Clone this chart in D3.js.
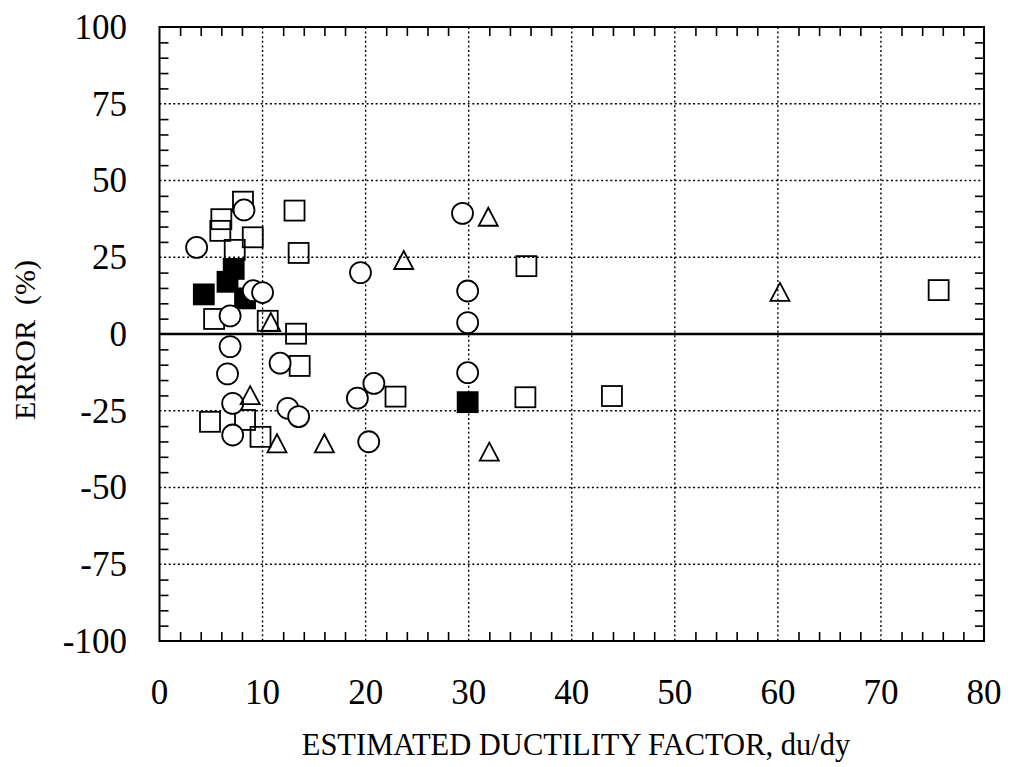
<!DOCTYPE html>
<html>
<head>
<meta charset="utf-8">
<script src="https://cdn.jsdelivr.net/npm/d3@7"></script>
<style>
  body { margin: 0; background: #fff; }
</style>
</head>
<body>
<div id="chart"></div>
<script>
// Values: [ductility factor, error %]
const openSquares = [
  [8.1, 43.1], [13.1, 40.2], [6.0, 37.4], [5.9, 33.6], [9.05, 31.5],
  [7.3, 27.4], [13.5, 26.4], [35.6, 22.1], [5.3, 4.9], [10.5, 4.3],
  [13.25, 0.1], [13.6, -10.4], [4.9, -28.6], [8.3, -28.0], [9.8, -33.5],
  [22.9, -20.4], [35.5, -20.6], [43.9, -20.2], [75.6, 14.3]
];
const filledSquares = [
  [4.3, 12.9], [6.6, 17.0], [7.2, 21.2], [8.3, 11.6], [29.9, -22.2]
];
const circles = [
  [8.2, 40.4], [3.6, 28.2], [9.1, 14.1], [10.0, 13.5], [6.85, 5.9],
  [6.85, -4.1], [11.7, -9.5], [6.6, -13.0], [7.1, -22.6], [12.45, -24.2],
  [13.5, -26.9], [7.1, -32.9], [19.5, 20.0], [20.8, -16.1], [19.2, -20.9],
  [20.3, -35.1], [29.4, 39.3], [29.9, 14.0], [29.9, 3.7], [29.9, -12.6]
];
const triangles = [
  [10.8, 3.9], [8.8, -19.9], [11.4, -35.6], [16.0, -35.6],
  [23.7, 24.1], [31.9, 38.2], [32.0, -38.3], [60.2, 13.7]
];
const xTicks = [0, 10, 20, 30, 40, 50, 60, 70, 80];
const yTicks = [100, 75, 50, 25, 0, -25, -50, -75, -100];
const xTitle = 'ESTIMATED DUCTILITY FACTOR, du/dy';
const yTitle = 'ERROR\u00a0\u00a0(%)';

const width = 1013;
const height = 767;
const margin = {top: 27, right: 29, bottom: 126, left: 159.5};
const serif = '"Liberation Serif", "DejaVu Serif", serif';

const svg = d3.select('#chart')
  .append('svg')
    .attr('width', width)
    .attr('height', height)
    .attr('viewBox', [0, 0, width, height])
    .attr('font-family', serif)
    .style('font-family', serif);

const xScale = d3.scaleLinear()
  .domain([0, 80])
  .range([margin.left, width - margin.right]);
const yScale = d3.scaleLinear()
  .domain([-100, 100])
  .range([height - margin.bottom, margin.top]);

const x0 = xScale(0), x1 = xScale(80);
const y0 = yScale(-100), y1 = yScale(100);

// dotted grid at major ticks
const grid = svg.append('g')
  .attr('stroke', '#000')
  .attr('stroke-width', 1.4)
  .attr('stroke-dasharray', '2 2.6');
grid.selectAll('.vgrid')
  .data(xTicks.slice(1, -1))
  .join('line')
    .attr('x1', d => xScale(d)).attr('x2', d => xScale(d))
    .attr('y1', y1).attr('y2', y0);
grid.selectAll('.hgrid')
  .data(yTicks.filter(d => d !== 0 && Math.abs(d) !== 100))
  .join('line')
    .attr('x1', x0).attr('x2', x1)
    .attr('y1', d => yScale(d)).attr('y2', d => yScale(d));

// zero line
svg.append('line')
  .attr('x1', x0).attr('x2', x1)
  .attr('y1', yScale(0)).attr('y2', yScale(0))
  .attr('stroke', '#000')
  .attr('stroke-width', 2.4);

// minor ticks on all four sides, pointing inward
const xMinor = d3.range(0, 81, 2).filter(d => d % 10 !== 0);
const yMinor = d3.range(-100, 101, 5).filter(d => d % 25 !== 0);
const tickLen = 9;

const styleAxis = g => {
  g.select('.domain').remove();
  g.selectAll('line').attr('stroke', '#000').attr('stroke-width', 1.6);
  g.selectAll('text').remove();
};
svg.append('g')
  .attr('transform', `translate(0,${y0})`)
  .call(d3.axisBottom(xScale).tickValues(xMinor).tickSize(-tickLen))
  .call(styleAxis);
svg.append('g')
  .attr('transform', `translate(0,${y1})`)
  .call(d3.axisTop(xScale).tickValues(xMinor).tickSize(-tickLen))
  .call(styleAxis);
svg.append('g')
  .attr('transform', `translate(${x0},0)`)
  .call(d3.axisLeft(yScale).tickValues(yMinor).tickSize(-tickLen))
  .call(styleAxis);
svg.append('g')
  .attr('transform', `translate(${x1},0)`)
  .call(d3.axisRight(yScale).tickValues(yMinor).tickSize(-tickLen))
  .call(styleAxis);

// frame
svg.append('rect')
  .attr('x', x0).attr('y', y1)
  .attr('width', x1 - x0).attr('height', y0 - y1)
  .attr('fill', 'none')
  .attr('stroke', '#000')
  .attr('stroke-width', 2);

// tick labels
svg.append('g')
  .selectAll('text')
  .data(xTicks)
  .join('text')
    .attr('x', d => xScale(d))
    .attr('y', 704)
    .attr('text-anchor', 'middle')
    .attr('fill', '#000')
    .style('font-size', '35px')
    .text(d => d);
svg.append('g')
  .selectAll('text')
  .data(yTicks)
  .join('text')
    .attr('x', 127)
    .attr('y', d => yScale(d))
    .attr('dy', '0.34em')
    .attr('text-anchor', 'end')
    .attr('fill', '#000')
    .style('font-size', '35px')
    .text(d => d);

// axis titles
svg.append('text')
  .attr('x', 576)
  .attr('y', 755)
  .attr('text-anchor', 'middle')
  .attr('fill', '#000')
  .style('font-size', '30.5px')
  .text(xTitle);
svg.append('text')
  .attr('transform', `translate(35,${(y0 + y1) / 2 + 6}) rotate(-90)`)
  .attr('text-anchor', 'middle')
  .attr('fill', '#000')
  .style('font-size', '30px')
  .text(yTitle);

// markers
const sq = 20;
const markers = svg.append('g')
  .attr('stroke', '#000')
  .attr('stroke-width', 1.8);

markers.append('g')
  .selectAll('rect')
  .data(openSquares)
  .join('rect')
    .attr('x', d => xScale(d[0]) - sq / 2)
    .attr('y', d => yScale(d[1]) - sq / 2)
    .attr('width', sq).attr('height', sq)
    .attr('fill', 'none');

markers.append('g')
  .selectAll('rect')
  .data(filledSquares)
  .join('rect')
    .attr('x', d => xScale(d[0]) - sq / 2)
    .attr('y', d => yScale(d[1]) - sq / 2)
    .attr('width', sq).attr('height', sq)
    .attr('fill', '#000');

markers.append('g')
  .selectAll('circle')
  .data(circles)
  .join('circle')
    .attr('cx', d => xScale(d[0]))
    .attr('cy', d => yScale(d[1]))
    .attr('r', 10.5)
    .attr('fill', '#fff');

const triW = 19, triH = 18;
markers.append('g')
  .selectAll('path')
  .data(triangles)
  .join('path')
    .attr('d', d => {
      const cx = xScale(d[0]), cy = yScale(d[1]);
      return `M${cx},${cy - triH / 2}L${cx + triW / 2},${cy + triH / 2}L${cx - triW / 2},${cy + triH / 2}Z`;
    })
    .attr('fill', 'none')
    .attr('stroke-linejoin', 'miter');
</script>
</body>
</html>
